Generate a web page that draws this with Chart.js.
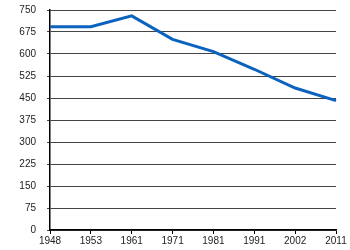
<!DOCTYPE html>
<html>
<head>
<meta charset="utf-8">
<script src="https://cdn.jsdelivr.net/npm/chart.js@4"></script>
<style>
html,body{margin:0;padding:0;background:#fff;}
#wrap{width:350px;height:250px;}
</style>
</head>
<body>
<div id="wrap"><canvas id="c" width="350" height="250"></canvas></div>
<script>
const years = ['1948','1953','1961','1971','1981','1991','2002','2011'];
const values = [693, 693, 730, 650, 608, 548, 484, 441];
const yTicks = [0,75,150,225,300,375,450,525,600,675,750];

new Chart(document.getElementById('c'), {
  type: 'line',
  data: {
    labels: years,
    datasets: [{
      data: values,
      borderColor: '#0b62bf',
      borderWidth: 3,
      pointRadius: 0,
      tension: 0,
      fill: false
    }]
  },
  options: {
    responsive: false,
    animation: false,
    devicePixelRatio: 1,
    plugins: { legend: { display: false }, tooltip: { enabled: false } },
    layout: { padding: { top: 10, right: 14, left: 0, bottom: 0 } },
    scales: {
      x: {
        type: 'category',
        offset: false,
        afterFit: s => { s.height = 20; s.paddingLeft = 0; s.paddingRight = 0; },
        grid: { display: true, drawOnChartArea: false, drawTicks: true, tickLength: 4, color: '#000', lineWidth: 1 },
        border: { display: true, color: '#000', width: 1.5 },
        ticks: { color: '#222', font: { family: 'Liberation Sans', size: 10 }, padding: 1, maxRotation: 0, autoSkip: false }
      },
      y: {
        min: 0, max: 750,
        afterBuildTicks: s => { s.ticks = yTicks.map(v => ({ value: v })); },
        afterFit: s => { s.width = 50; s.paddingTop = 0; s.paddingBottom = 0; },
        grid: { display: true, drawOnChartArea: true, drawTicks: true, tickLength: 3, color: '#444', lineWidth: 1 },
        border: { display: true, color: '#000', width: 1.5 },
        ticks: { color: '#222', font: { family: 'Liberation Sans', size: 10 }, padding: 11 }
      }
    }
  }
});
</script>
</body>
</html>
